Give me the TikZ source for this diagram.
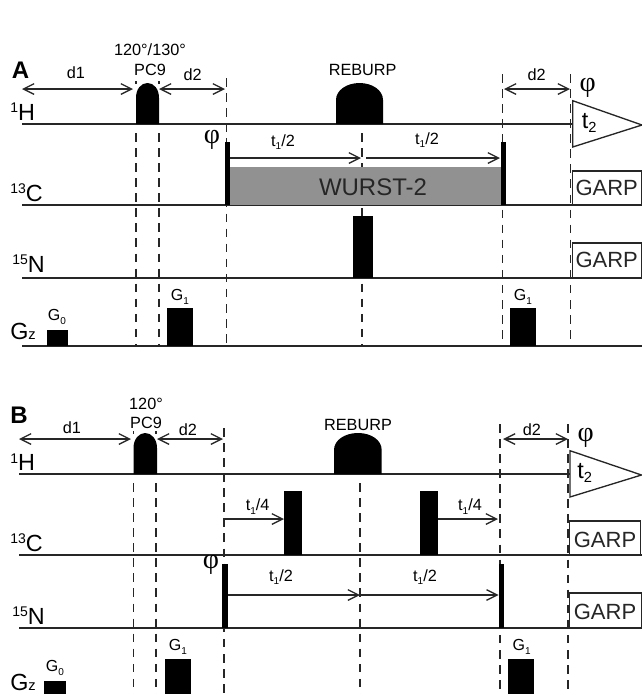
\documentclass[tikz,border=0pt]{standalone}
\usepackage{fontspec}
\setmainfont{Liberation Sans}
\newfontfamily\phifont{Liberation Serif}
\usetikzlibrary{arrows.meta}

\newcommand{\isotope}[1]{\raisebox{5.6pt}{\fontsize{10.5}{11}\selectfont #1}}
\newcommand{\lowidx}[1]{\raisebox{-2.8pt}{\fontsize{7.5}{8}\selectfont #1}}

\tikzset{
  chan/.style={line width=1.2pt, black!85},
  gapline/.style={line width=1pt, black!85, dash pattern=on 6.4pt off 4.9pt},
  pulse/.style={fill=black, draw=none},
  delay/.style={line width=1pt, black!85, {Straight Barb[length=8pt,width=8pt]}-{Straight Barb[length=8pt,width=8pt]}},
  delayr/.style={line width=1pt, black!85, -{Straight Barb[length=8pt,width=8pt]}},
  small/.style={inner sep=0pt, font=\fontsize{12.2}{13}\selectfont},
  nuc/.style={inner sep=0pt, anchor=base west, font=\fontsize{17.5}{21}\selectfont},
  grad/.style={inner sep=0pt, font=\fontsize{12}{13}\selectfont},
  panel/.style={inner sep=0pt, font=\fontsize{18}{19}\selectfont\bfseries},
  phase/.style={inner sep=0pt, font=\fontsize{21}{22}\selectfont\phifont},
  garpbox/.style={draw=black!85, line width=1pt, fill=white},
  garptext/.style={inner sep=0pt, font=\fontsize{16.5}{18}\selectfont, black!85},
}

\begin{document}
\begin{tikzpicture}[x=0.75pt, y=-0.75pt]
  \useasboundingbox (0,0) rectangle (642,694);

  % panel A
  \coordinate (Aone) at (136,133);
  \coordinate (Atwo) at (159,133);
  \coordinate (Athree) at (226.5,78);
  \coordinate (Amid) at (362,133);
  \coordinate (Afour) at (502.7,74);
  \coordinate (Afive) at (570.7,74);
  \draw[gapline] (136,81)--(136,84);
  \draw[gapline] (159,81)--(159,84);
  \draw[gapline] (Aone)--(136,346);
  \draw[gapline] (Atwo)--(159,346);
  \draw[gapline] (Athree)--(226.5,346);
  \draw[gapline] (Amid)--(362,346);
  \draw[gapline] (Afour)--(502.7,346);
  \draw[gapline] (Afive)--(570.7,346);

  \draw[chan] (22,124)--(572,124);
  \draw[chan] (22,205)--(642,205);
  \draw[chan] (22,278)--(642,278);
  \draw[chan] (22,346)--(642,346);

  % shaped pulses
  \fill[pulse] (136,124)--(136,98) .. controls (136,89) and (141,83) .. (147.5,83)
    .. controls (154,83) and (159,89) .. (159,98)--(159,124)--cycle;
  \fill[pulse] (336,124)--(336,100) .. controls (336,90) and (347,83) .. (359.5,83)
    .. controls (372,83) and (383,90) .. (383,100)--(383,124)--cycle;

  \fill[black!43] (230,167) rectangle (501,205);
  \fill[pulse] (225,142) rectangle (230,205);
  \fill[pulse] (501,142) rectangle (506,205);
  \fill[pulse] (353,216) rectangle (373,278);
  \fill[pulse] (47,330) rectangle (68,346);
  \fill[pulse] (167,308) rectangle (193,346);
  \fill[pulse] (510,308) rectangle (536,346);

  \draw[delay] (22,89)--(133,89);
  \draw[delay] (159,89)--(225,89);
  \draw[delay] (504,89)--(570,89);
  \draw[delayr] (230,158)--(361,158);
  \draw[delayr] (366,158)--(500,158);

  \draw[line width=1pt, black!85] (572.7,100.7)--(642,125)--(572.7,147)--cycle;
  \draw[garpbox] (572.5,171) rectangle (641.5,205);
  \draw[garpbox] (572.5,243) rectangle (641.5,278);

  \node[panel] (Atitle) at (20.5,70.7) {A};
  \node[small] (Ad1) at (76,73) {d1};
  \node[small] (Aangle) at (150,50) {120°/130°};
  \node[small] (Apc) at (150,70) {PC9};
  \node[small] (Adtwo) at (192.7,75) {d2};
  \node[small] (Areb) at (362.7,70) {REBURP};
  \node[small] (Adthree) at (536.7,75) {d2};
  \node[nuc] (Ah) at (10,120) {\isotope{1}H};
  \node[nuc] (Ac) at (10,201) {\isotope{13}C};
  \node[nuc] (An) at (12,272) {\isotope{15}N};
  \node[nuc] (Ag) at (10,339) {G{\fontsize{11}{12}\selectfont z}};
  \node[phase] (Aphi) at (212,140) {φ};
  \node[phase] (Aphib) at (587.7,88) {φ};
  \node[small] (Atl) at (283,142) {t\lowidx{1}/2};
  \node[small] (Atr) at (427,140) {t\lowidx{1}/2};
  \node[inner sep=0pt, font=\fontsize{18}{20}\selectfont, black!85] (Aw) at (373,187) {WURST-2};
  \node[nuc] (Atwoo) at (581.7,128) {t\raisebox{-3.5pt}{\fontsize{11}{12}\selectfont 2}};
  \node[garptext] (Agc) at (606.7,188) {GARP};
  \node[garptext] (Agn) at (606.7,260) {GARP};
  \node[grad] (Agz) at (57,316.7) {G\lowidx{0}};
  \node[grad] (Ago) at (180,296.7) {G\lowidx{1}};
  \node[grad] (Agp) at (523,296.7) {G\lowidx{1}};

  % panel B
  \coordinate (Bone) at (133.7,483);
  \coordinate (Btwo) at (156,483);
  \coordinate (Bthree) at (224,428);
  \coordinate (Bmid) at (360,483);
  \coordinate (Bfour) at (500,424);
  \coordinate (Bfive) at (568,424);
  \draw[gapline] (133.7,431)--(133.7,434);
  \draw[gapline] (156,431)--(156,434);
  \draw[gapline] (Bone)--(133.7,694);
  \draw[gapline] (Btwo)--(156,694);
  \draw[gapline] (Bthree)--(224,694);
  \draw[gapline] (Bmid)--(360,694);
  \draw[gapline] (Bfour)--(500,694);
  \draw[gapline] (Bfive)--(568,694);

  \draw[chan] (19,474)--(570,474);
  \draw[chan] (19,555)--(642,555);
  \draw[chan] (19,628)--(642,628);

  \fill[pulse] (133.5,474)--(133.5,448) .. controls (133.5,439) and (139,433) .. (145.2,433)
    .. controls (151.5,433) and (157,439) .. (157,448)--(157,474)--cycle;
  \fill[pulse] (334,474)--(334,450) .. controls (334,440) and (345,433) .. (358,433)
    .. controls (371,433) and (381.7,440) .. (381.7,450)--(381.7,474)--cycle;

  \fill[pulse] (284,491) rectangle (302,555);
  \fill[pulse] (420,491) rectangle (437.7,555);
  \fill[pulse] (222.3,564) rectangle (227.7,628);
  \fill[pulse] (498.7,564) rectangle (504,628);
  \fill[pulse] (44,680.7) rectangle (66,694);
  \fill[pulse] (165,658.7) rectangle (191,694);
  \fill[pulse] (507.7,658.7) rectangle (534,694);

  \draw[delay] (19,439)--(131,439);
  \draw[delay] (157,439)--(223,439);
  \draw[delay] (503,439)--(568,439);
  \draw[delayr] (225,519)--(284,519);
  \draw[delayr] (437.7,519)--(498,519);
  \draw[delayr] (227.7,595)--(360,595);
  \draw[delayr] (360,595)--(498.7,595);

  \draw[line width=1pt, black!85] (570,450.7)--(641.5,475)--(570,497)--cycle;
  \draw[garpbox] (569.7,521) rectangle (640.7,555);
  \draw[garpbox] (569.7,593) rectangle (641.5,628);

  \node[panel] (Btitle) at (19,415) {B};
  \node[small] (Bd1) at (72,428) {d1};
  \node[small] (Bangle) at (146,404) {120°};
  \node[small] (Bpc) at (146,423) {PC9};
  \node[small] (Bdtwo) at (188,430) {d2};
  \node[small] (Breb) at (358,425) {REBURP};
  \node[small] (Bdthree) at (532,430) {d2};
  \node[nuc] (Bh) at (10,470.7) {\isotope{1}H};
  \node[nuc] (Bc) at (10,551) {\isotope{13}C};
  \node[nuc] (Bn) at (12,624) {\isotope{15}N};
  \node[nuc] (Bg) at (10,690.7) {G{\fontsize{11}{12}\selectfont z}};
  \node[phase] (Bphi) at (211,565) {φ};
  \node[phase] (Bphib) at (585.7,438) {φ};
  \node[small] (Bfl) at (257.7,506.7) {t\lowidx{1}/4};
  \node[small] (Bfr) at (470,506.7) {t\lowidx{1}/4};
  \node[small] (Btl) at (281,577) {t\lowidx{1}/2};
  \node[small] (Btr) at (425,577) {t\lowidx{1}/2};
  \node[nuc] (Btwoo) at (577,478) {t\raisebox{-3.5pt}{\fontsize{11}{12}\selectfont 2}};
  \node[garptext] (Bgc) at (605,540) {GARP};
  \node[garptext] (Bgn) at (605,612) {GARP};
  \node[grad] (Bgz) at (55,668) {G\lowidx{0}};
  \node[grad] (Bgo) at (178,647) {G\lowidx{1}};
  \node[grad] (Bgp) at (521.7,647) {G\lowidx{1}};
\end{tikzpicture}
\end{document}
